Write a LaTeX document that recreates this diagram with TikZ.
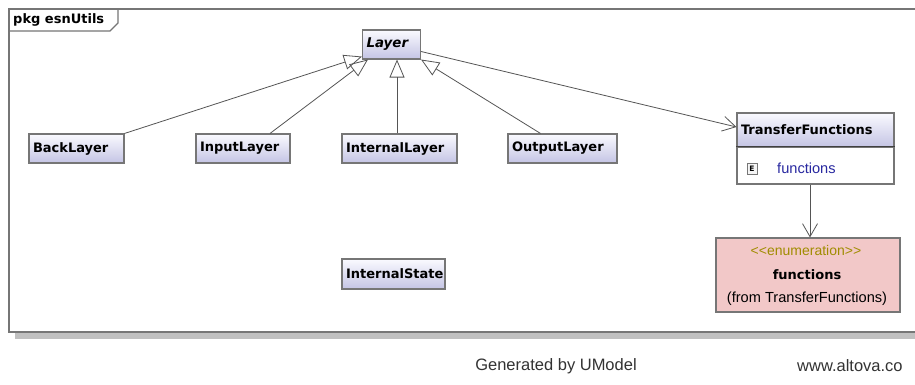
\documentclass[tikz,border=0pt]{standalone}
\usepackage{fontspec}
\setmainfont{Liberation Sans}
\newfontfamily\clsfont{DejaVu Sans}
\usetikzlibrary{arrows.meta,calc}

\definecolor{boxline}{RGB}{118,118,118}
\definecolor{clstop}{RGB}{250,250,255}
\definecolor{clsbot}{RGB}{196,196,228}
\definecolor{enumfill}{RGB}{242,200,200}
\definecolor{stereo}{RGB}{160,140,0}
\definecolor{attrblue}{RGB}{40,40,160}
\definecolor{wire}{RGB}{85,85,85}
\definecolor{shadowgray}{RGB}{192,192,192}

\tikzset{
  clsname/.style={font=\clsfont\fontsize{13}{14}\selectfont\bfseries},
  cls/.style={draw=boxline, line width=1.1pt, top color=clstop, bottom color=clsbot,
    inner xsep=4pt, inner ysep=0pt, minimum height=29pt, text width=#1, align=left,
    clsname, anchor=center},
  general/.style={draw=wire, line width=0.8pt, -{Triangle[open,length=18pt,width=15pt,line width=0.8pt]}},
  assoc/.style={draw=wire, line width=0.8pt, -{Straight Barb[length=13pt,width=15pt,line width=0.8pt]}},
  regular/.style={font=\fontsize{14.6}{16}\selectfont},
}

\begin{document}
\begin{tikzpicture}[x=1pt,y=-1pt]
\useasboundingbox (0,0) rectangle (915,385);
\fill[white] (0,0) rectangle (915,385);

% package frame with its name tab and shadow
\fill[shadowgray] (15,332) rectangle (915,339);
\draw[boxline, line width=1.2pt] (915,9) -- (9,9) -- (9,332) -- (915,332);
\draw[boxline, line width=1.2pt] (9,31) -- (110,31) -- (118,23) -- (118,9);
\node[clsname, anchor=west, inner sep=0pt] (pkg) at (13,20) {pkg esnUtils};

% classes
\node[cls=50pt, font=\clsfont\fontsize{13.4}{14}\selectfont\bfseries\itshape] (Layer) at (391.5,44.5) {Layer};
\node[cls=87pt] (BackLayer) at (76.5,148.5) {BackLayer};
\node[cls=86pt] (InputLayer) at (243,148.5) {InputLayer};
\node[cls=107pt] (InternalLayer) at (399.5,148.5) {InternalLayer};
\node[cls=101pt] (OutputLayer) at (562.5,148.5) {OutputLayer};
\node[cls=95pt, minimum height=30pt] (InternalState) at (393.5,274) {InternalState};

% TransferFunctions class with one attribute compartment
\node[cls=149pt, minimum height=34pt] (TF) at (815.5,130) {TransferFunctions};
\node[draw=boxline, line width=1.1pt, fill=white, minimum width=157pt, minimum height=37pt,
      inner sep=0pt] (TFbody) at (815.5,165.5) {};
\draw[black!75, line width=1.1pt] (TFbody.north west) -- (TFbody.north east);
\node[draw=boxline, line width=0.9pt, fill=black!4, minimum width=10pt, minimum height=11pt,
      inner sep=0pt, font=\clsfont\fontsize{7.5}{8}\selectfont\bfseries] (Eicon) at (752,168.5) {E};
\node[regular, text=attrblue, anchor=west, inner sep=0pt] (attr) at (777,168) {functions};

% enumeration
\node[draw=boxline, line width=1.1pt, fill=enumfill, minimum width=184pt, minimum height=74pt,
      inner sep=0pt] (Enum) at (808,275) {};
\node[text=stereo, inner sep=0pt, font=\fontsize{14}{15}\selectfont] (stereotype) at (806,250)
  {<\kern0pt<enumeration>\kern0pt>};
\node[clsname, inner sep=0pt] (enumname) at (807,275) {functions};
\node[regular, inner sep=0pt] (origin) at (807,299) {(from TransferFunctions)};

% generalizations
\draw[general] (BackLayer.north east) -- ($(Layer.south west)+(0,-3)$);
\draw[general] ($(InputLayer.north)+(27,0)$) -- ($(Layer.south west)+(6,0)$);
\draw[general] (InternalLayer.north -| 397,0) -- (Layer.south -| 397,0);
\draw[general] ($(OutputLayer.north)+(-22,0)$) -- (Layer.south east);

% associations
\draw[assoc] ($(Layer.east)+(0,7)$) -- ($(TF.west)+(0,-3)$);
\draw[assoc] (TF.south -| 810,0) ++(0,37) coordinate (tfout) -- (Enum.north -| tfout);

% footer
\node[font=\fontsize{16.5}{18}\selectfont, text=black!80, inner sep=0pt] (gen) at (556,366) {Generated by UModel};
\node[font=\fontsize{16.5}{18}\selectfont, text=black!80, inner sep=0pt, anchor=west] (url) at (797,366) {www.altova.co};
\end{tikzpicture}
\end{document}
